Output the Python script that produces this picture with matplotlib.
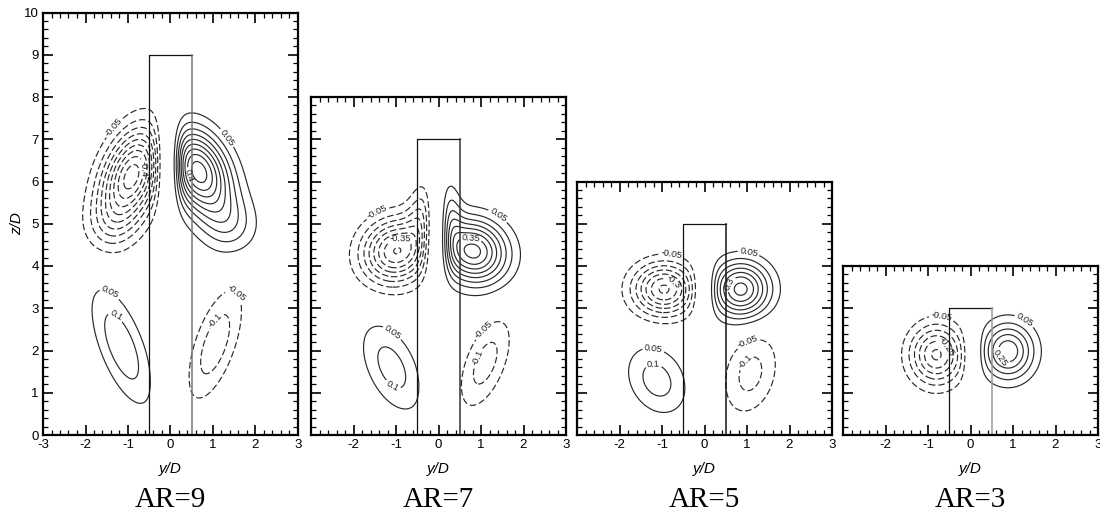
import numpy as np
import matplotlib
matplotlib.use("Agg")
import matplotlib.pyplot as plt
from matplotlib.ticker import MultipleLocator, FuncFormatter
from matplotlib.transforms import blended_transform_factory

plt.rcParams['font.family'] = ['Liberation Sans', 'DejaVu Sans']
plt.rcParams['axes.unicode_minus'] = False

# Cylinder aspect ratios and the height of each measurement plane (z/D)
aspect_ratios = [9, 7, 5, 3]
plane_tops = [10, 8, 6, 4]
captions = ["AR=9", "AR=7", "AR=5", "AR=3"]

# Streamwise vorticity structures: (y/D, z/D, peak, long spread, short spread, tilt deg)
vortices_ar9 = [
    (0.65, 6.25, 0.48, 0.72, 0.47, -65),
    (1.35, 5.00, 0.12, 0.50, 0.45, -60),
    (-0.90, 6.15, -0.48, 0.82, 0.45, 68),
    (-1.35, 5.00, -0.08, 0.45, 0.40, 60),
    (-1.15, 2.10, 0.14, 1.00, 0.35, -69),
    (1.05, 2.15, -0.135, 0.95, 0.33, 71),
]
vortices_ar7 = [
    (0.82, 4.35, 0.42, 0.55, 0.50, -30),
    (0.20, 5.20, 0.15, 0.60, 0.22, 95),
    (-1.00, 4.35, -0.40, 0.55, 0.50, 30),
    (-0.35, 5.20, -0.15, 0.55, 0.25, 80),
    (-1.10, 1.60, 0.125, 0.78, 0.40, -65),
    (1.10, 1.70, -0.125, 0.78, 0.33, 69),
]
vortices_ar5 = [
    (0.85, 3.45, 0.37, 0.47, 0.45, 0),
    (-0.95, 3.45, -0.36, 0.50, 0.42, 0),
    (-1.12, 1.30, 0.125, 0.60, 0.45, -60),
    (1.08, 1.45, -0.12, 0.68, 0.42, 75),
]
vortices_ar3 = [
    (0.88, 1.98, 0.29, 0.46, 0.42, 90),
    (-0.80, 1.90, -0.31, 0.48, 0.43, 90),
]
vortex_sets = [vortices_ar9, vortices_ar7, vortices_ar5, vortices_ar3]

# Zero-vorticity line separating the tip vortex pair, and its thickness (y/D)
gap_centres = [-0.05, -0.05, -0.02, 0.05]
gap_widths = [0.25, 0.25, 0.22, 0.18]

# Contour labels: (level, y/D, z/D) near which each label sits
labels_ar9 = [(-0.05, -1.0, 7.0), (0.05, 1.3, 7.0), (-0.4, -0.8, 6.3), (0.4, 0.65, 6.2),
              (0.05, -1.4, 3.4), (0.1, -1.3, 2.8), (-0.05, 1.5, 3.3), (-0.1, 1.2, 2.6)]
labels_ar7 = [(-0.05, -1.3, 5.0), (0.05, 1.2, 4.9), (-0.35, -0.9, 4.5), (0.35, 0.75, 4.5),
              (0.05, -1.1, 2.4), (0.1, -1.0, 1.3), (-0.05, 1.05, 2.5), (-0.1, 1.0, 1.8)]
labels_ar5 = [(-0.05, -0.8, 4.2), (0.05, 1.0, 4.15), (-0.3, -0.85, 3.5), (0.3, 0.75, 3.5),
              (0.05, -1.2, 2.0), (0.1, -1.2, 1.5), (-0.05, 1.05, 2.15), (-0.1, 1.05, 1.65)]
labels_ar3 = [(-0.05, -0.7, 2.7), (0.05, 1.2, 2.6), (-0.25, -0.7, 2.0), (0.25, 0.8, 1.9)]
label_sets = [labels_ar9, labels_ar7, labels_ar5, labels_ar3]

contour_step = 0.05
contour_max = 0.5

# right edge colour of the cylinder outline
edge_colours = ['#777777', '#333333', '#111111', '#999999']


def vorticity(Y, Z, vortices, y0, width):
    W = np.zeros_like(Y)
    for yc, zc, amp, sl, ss, tilt in vortices:
        t = np.deg2rad(tilt)
        dy, dz = Y - yc, Z - zc
        u = dy * np.cos(t) + dz * np.sin(t)
        v = -dy * np.sin(t) + dz * np.cos(t)
        W += amp * np.exp(-0.5 * ((u / sl) ** 2 + (v / ss) ** 2))
    # vorticity vanishes along the plane of symmetry between the pair
    return W * (1.0 - np.exp(-((Y - y0) / width) ** 2))


def label_points(cs, hints):
    """Snap each (level, y, z) hint onto the nearest vertex of that level's contour."""
    pts = []
    lv_arr = np.asarray(cs.levels)
    for lv, hy, hz in hints:
        idx = int(np.argmin(np.abs(lv_arr - lv)))
        verts = cs.get_paths()[idx].vertices
        if len(verts) == 0:
            continue
        d = (verts[:, 0] - hy) ** 2 + (verts[:, 1] - hz) ** 2
        pts.append(tuple(verts[int(np.argmin(d))]))
    return pts


fig = plt.figure(figsize=(11.0, 5.17), dpi=100)
W_PX, H_PX = 1100.0, 517.0
panel_left_px = [43, 311, 577, 843]
panel_width_px = 255
bottom_px = 435
px_per_unit = 42.25

pos = np.arange(contour_step, contour_max + 1e-9, contour_step)
levels = np.round(np.concatenate([-pos[::-1], pos]), 2)
styles = [(0, (5.5, 2.5)) if lv < 0 else '-' for lv in levels]

for i, (ar, ztop) in enumerate(zip(aspect_ratios, plane_tops)):
    h_px = ztop * px_per_unit
    rect = [panel_left_px[i] / W_PX, (H_PX - bottom_px) / H_PX,
            panel_width_px / W_PX, h_px / H_PX]
    ax = fig.add_axes(rect)
    ax.set_xlim(-3, 3)
    ax.set_ylim(0, ztop)

    y = np.linspace(-3, 3, 301)
    z = np.linspace(0, ztop, int(ztop * 50) + 1)
    Y, Z = np.meshgrid(y, z)
    Wf = vorticity(Y, Z, vortex_sets[i], gap_centres[i], gap_widths[i])

    cs = ax.contour(Y, Z, Wf, levels=levels, colors='#2a2a2a',
                    linewidths=0.85, linestyles=styles)
    pts = label_points(cs, label_sets[i])
    ax.clabel(cs, manual=pts, inline=True, inline_spacing=2,
              fontsize=6.8, fmt=lambda v: f"{v:g}", colors='#222222')

    # cylinder outline
    ax.plot([-0.5, -0.5, 0.5], [0, ar, ar], color='#111111', lw=0.9)
    ax.plot([0.5, 0.5], [ar, 0], color=edge_colours[i], lw=1.1)

    ax.xaxis.set_major_locator(MultipleLocator(1))
    ax.xaxis.set_minor_locator(MultipleLocator(0.2))
    ax.yaxis.set_major_locator(MultipleLocator(1))
    ax.yaxis.set_minor_locator(MultipleLocator(0.2))
    ax.tick_params(which='both', direction='in', top=True, right=True,
                   labelsize=9.5, pad=3)
    ax.tick_params(which='major', length=7, width=1.2)
    ax.tick_params(which='minor', length=3.5, width=0.9)
    for sp in ax.spines.values():
        sp.set_linewidth(1.6)

    if i == 0:
        ax.xaxis.set_major_formatter(FuncFormatter(lambda v, p: f"{v:g}"))
        ax.yaxis.set_major_formatter(FuncFormatter(lambda v, p: f"{v:g}"))
        ax.set_ylabel("z/D", fontsize=11, style='italic', labelpad=0)
    else:
        ax.xaxis.set_major_formatter(
            FuncFormatter(lambda v, p: "" if v < -2.5 else f"{v:g}"))
        ax.set_yticklabels([])
    ax.set_xlabel("y/D", fontsize=11, style='italic', labelpad=8)

    trans = blended_transform_factory(ax.transAxes, fig.transFigure)
    ax.text(0.5, 17.0 / H_PX, captions[i], transform=trans, ha='center',
            va='center', fontsize=21, family=['Liberation Serif', 'DejaVu Serif'])

fig.savefig("out.png", dpi=100)
